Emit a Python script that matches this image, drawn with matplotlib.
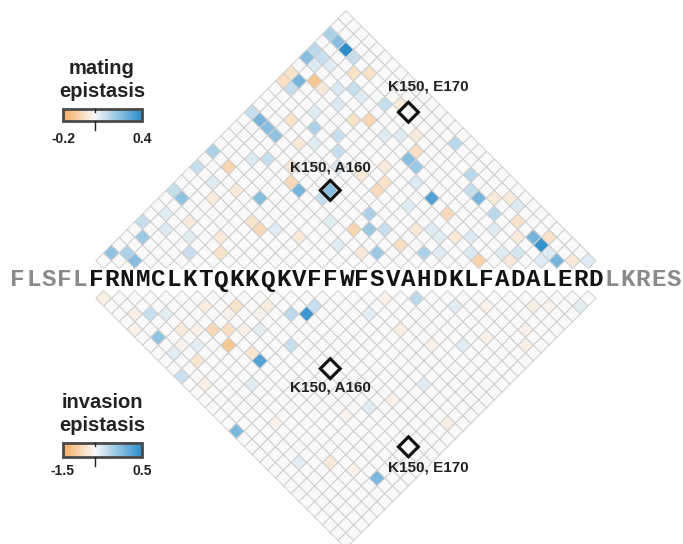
import numpy as np
import matplotlib
matplotlib.use("Agg")
import matplotlib.pyplot as plt
from matplotlib.collections import PolyCollection
from matplotlib.colors import LinearSegmentedColormap
from matplotlib.patches import Polygon, Rectangle

# ---- sequence (first core residue is numbered 140) ----
flank_left = "FLSFL"
core_seq = "FRNMCLKTQKKQKVFFWFSVAHDKLFADALERD"
flank_right = "LKRES"
first_resnum = 140

# ---- pairwise epistasis (core index i, core index j, value) ----
# upper triangle: mating
mating_main = [
    (2, 30, 0.40), (0, 30, 0.15), (1, 30, 0.22), (0, 27, 0.22), (0, 28, 0.12),
    (1, 28, 0.10), (2, 26, -0.13), (1, 25, 0.25), (0, 24, -0.07), (1, 24, 0.10),
    (0, 25, -0.06), (0, 20, 0.10), (1, 20, 0.25), (2, 20, 0.22), (3, 20, 0.20),
    (5, 23, 0.15), (7, 24, 0.10), (3, 22, -0.06), (0, 15, 0.15), (2, 15, -0.09),
    (0, 13, 0.10), (8, 18, 0.25), (7, 18, -0.08), (10, 20, 0.22), (6, 15, 0.22),
    (7, 13, -0.06), (8, 13, -0.08), (1, 10, 0.20), (0, 10, 0.10), (3, 12, -0.04),
    (0, 6, 0.10), (1, 5, 0.18), (0, 2, 0.20), (1, 3, 0.15), (2, 3, 0.22),
    (5, 7, 0.10), (7, 9, -0.06), (4, 18, 0.10), (6, 19, -0.05), (8, 23, 0.10),
    (10, 19, 0.10), (5, 26, 0.06), (3, 30, 0.10), (4, 29, -0.06), (5, 30, -0.06),
    (5, 28, 0.10), (8, 29, 0.10), (7, 26, -0.06), (8, 27, -0.09), (13, 28, -0.07),
    (13, 27, 0.22), (14, 27, 0.18), (15, 31, 0.12), (17, 26, 0.32), (20, 29, 0.25),
    (19, 26, -0.08), (18, 30, 0.12), (19, 29, 0.10), (27, 30, 0.38), (26, 30, 0.25),
    (29, 30, 0.25), (22, 29, 0.12), (18, 21, -0.07), (16, 21, 0.10), (15, 20, 0.18),
    (17, 19, 0.18), (14, 19, -0.09), (14, 21, 0.15), (13, 23, -0.08), (13, 24, -0.06),
    (24, 25, -0.10), (20, 22, 0.15), (24, 30, -0.06), (27, 31, -0.06),
]
mating_faint = [
    (20, 24, 0.05), (21, 25, -0.04), (22, 26, 0.06), (23, 28, 0.05), (21, 30, -0.04),
    (23, 31, 0.06), (25, 29, -0.04), (25, 27, 0.05), (26, 28, 0.07), (28, 30, 0.06),
    (22, 31, -0.04), (19, 24, 0.05), (18, 23, -0.04), (16, 24, 0.05), (15, 26, 0.06),
    (12, 25, -0.04), (11, 28, 0.05), (9, 30, -0.04), (10, 27, 0.05), (12, 29, -0.04),
    (6, 28, 0.05), (4, 27, 0.06), (3, 26, -0.04), (2, 28, 0.05), (1, 27, 0.06),
    (4, 24, 0.05), (5, 21, -0.04), (6, 22, 0.05), (3, 17, 0.06), (2, 13, 0.05),
    (4, 14, -0.04), (1, 8, 0.05), (3, 9, -0.04), (2, 7, 0.06), (4, 8, 0.05),
    (6, 10, -0.04), (9, 14, 0.05), (11, 15, -0.04), (12, 18, 0.05), (9, 22, 0.06),
    (11, 23, -0.04), (14, 17, 0.05), (16, 18, -0.04), (21, 23, 0.05), (23, 25, 0.06),
    (26, 27, -0.04), (28, 29, 0.05), (30, 31, -0.04), (31, 32, 0.05),
]

# lower triangle: invasion
invasion_main = [
    (12, 15, 0.45), (6, 15, 0.40), (5, 12, -1.00), (5, 10, -0.60), (6, 11, -0.50),
    (2, 11, -0.40), (6, 14, -0.40), (1, 7, 0.25), (3, 8, -0.30), (0, 18, 0.30),
    (6, 30, 0.30), (9, 16, 0.12), (20, 21, 0.15), (27, 29, -0.20), (0, 1, -0.20),
    (1, 4, -0.20), (2, 5, 0.12), (6, 8, -0.25), (8, 10, -0.45), (10, 12, -0.25),
    (11, 14, 0.15), (13, 15, 0.12), (4, 26, -0.30), (14, 31, -0.20), (17, 22, -0.20),
    (24, 31, -0.20), (0, 11, 0.12), (1, 13, -0.20),
]
invasion_faint = [
    (2, 9, -0.15), (3, 10, 0.06), (4, 9, -0.15), (7, 12, -0.18), (8, 13, 0.06),
    (9, 12, -0.15), (7, 10, -0.18), (3, 6, 0.06), (0, 5, -0.15), (1, 9, 0.06),
    (4, 16, 0.06), (3, 20, -0.15), (8, 24, -0.15), (10, 25, 0.06), (12, 26, -0.15),
    (15, 27, 0.06), (18, 25, -0.15), (20, 27, 0.06), (22, 28, -0.15), (25, 30, -0.15),
    (16, 19, 0.06), (18, 19, -0.15), (22, 24, 0.06), (24, 26, -0.15), (28, 30, -0.15),
    (30, 32, 0.06), (2, 24, 0.06), (5, 28, -0.15),
]

mating_range = (-0.2, 0.4)
invasion_range = (-1.5, 0.5)

highlight_pairs = [("K150", "A160"), ("K150", "E170")]

# ---- layout constants ----
PX = 15.63            # pixels per residue
W, H = 683, 544
X_LEFT = -88 / PX - 0.5
Y_TOP = 268.5 / PX
LOWER_SHIFT = 22.0 / PX   # gap between the two triangles
SEQ_Y = -(280 - 268.5) / PX
WHITE_AT = 0.4

cmap = LinearSegmentedColormap.from_list(
    "epi", [(0.0, "#f6ac5e"), (WHITE_AT, "#f9f9f9"), (1.0, "#2a8dca")])


def to_unit(v, rng):
    return np.interp(v, [rng[0], 0.0, rng[1]], [0.0, WHITE_AT, 1.0])


def px2data(xp, yp):
    return X_LEFT + xp / PX, Y_TOP - yp / PX


fig = plt.figure(figsize=(W / 100, H / 100), dpi=100)
ax = fig.add_axes([0, 0, 1, 1])
ax.set_axis_off()

n = len(core_seq)


def cell_center(i, j, upper):
    cx = (i + j) / 2.0
    if upper:
        cy = (j - i) / 2.0
    else:
        cy = -LOWER_SHIFT - (j - i) / 2.0
    return cx, cy


def draw_triangle(entries, rng, upper):
    vals = {(a, b): v for a, b, v in entries}
    polys, colors = [], []
    for i in range(n):
        for j in range(i + 1, n):
            cx, cy = cell_center(i, j, upper)
            polys.append([(cx - 0.5, cy), (cx, cy + 0.5), (cx + 0.5, cy), (cx, cy - 0.5)])
            colors.append(cmap(to_unit(vals.get((i, j), 0.0), rng)))
    pc = PolyCollection(polys, facecolors=colors, edgecolors="#cfcfcf", linewidths=0.7)
    ax.add_collection(pc)


draw_triangle(mating_faint + mating_main, mating_range, True)
draw_triangle(invasion_faint + invasion_main, invasion_range, False)

# ---- highlighted residue pairs ----
label_offsets = {
    (True, 10): (0.0, 1.45), (True, 20): (1.3, 1.65),
    (False, 10): (0.0, -1.2), (False, 20): (1.3, -1.35),
}
for upper in (True, False):
    for a, b in highlight_pairs:
        i = int(a[1:]) - first_resnum
        j = int(b[1:]) - first_resnum
        cx, cy = cell_center(i, j, upper)
        r = 0.64
        ax.add_patch(Polygon([(cx - r, cy), (cx, cy + r), (cx + r, cy), (cx, cy - r)],
                             closed=True, fill=False, edgecolor="#111111",
                             linewidth=2.2, joinstyle="miter", zorder=5))
        dx, dy = label_offsets[(upper, j - i)]
        ax.text(cx + dx, cy + dy, f"{a}, {b}", ha="center", va="center",
                fontsize=11, fontweight="bold", family="Liberation Sans",
                color="#222222", zorder=6)

# ---- sequence along the middle ----
full = flank_left + core_seq + flank_right
for k, ch in enumerate(full):
    idx = k - len(flank_left)
    core = 0 <= idx < n
    ax.text(idx, SEQ_Y, ch, ha="center", va="center", fontsize=17.5,
            fontweight="bold", family="Liberation Mono",
            color="#141414" if core else "#8a8a8a")


# ---- colour bars ----
def colorbar(title, rng, title_y, bar_top, bar_bottom, lab_y):
    x0, y0 = px2data(63, bar_bottom)
    x1, y1 = px2data(142, bar_top)
    grad = np.linspace(0, 1, 256)[None, :]
    ax.imshow(grad, cmap=cmap, extent=(x0, x1, y0, y1), aspect="auto",
              interpolation="bilinear", zorder=3)
    ax.add_patch(Rectangle((x0, y0), x1 - x0, y1 - y0, fill=False,
                           edgecolor="#4a4a4a", linewidth=2.0, zorder=4))
    tx = x0 + WHITE_AT * (x1 - x0)
    ax.plot([tx, tx], [y1, y1 - 3 / PX], color="#222222", lw=1.0, zorder=5)
    ax.plot([tx, tx], [y0, y0 - 9 / PX], color="#222222", lw=1.0, zorder=5)
    tx_, ty_ = px2data(102, title_y)
    ax.text(tx_, ty_, title, ha="center", va="center", fontsize=14.5,
            fontweight="bold", family="Liberation Sans", color="#222222",
            linespacing=1.25)
    _, ly = px2data(0, lab_y)
    ax.text(x0, ly, f"{rng[0]:g}", ha="center", va="center", fontsize=10,
            fontweight="bold", family="Liberation Sans", color="#222222")
    ax.text(x1, ly, f"{rng[1]:g}", ha="center", va="center", fontsize=10,
            fontweight="bold", family="Liberation Sans", color="#222222")


colorbar("mating\nepistasis", mating_range, 80, 109, 121, 139)
colorbar("invasion\nepistasis", invasion_range, 414, 443, 457, 471)

ax.set_xlim(X_LEFT, X_LEFT + W / PX)
ax.set_ylim(Y_TOP - H / PX, Y_TOP)

fig.savefig("out.png", dpi=100, facecolor="white")
